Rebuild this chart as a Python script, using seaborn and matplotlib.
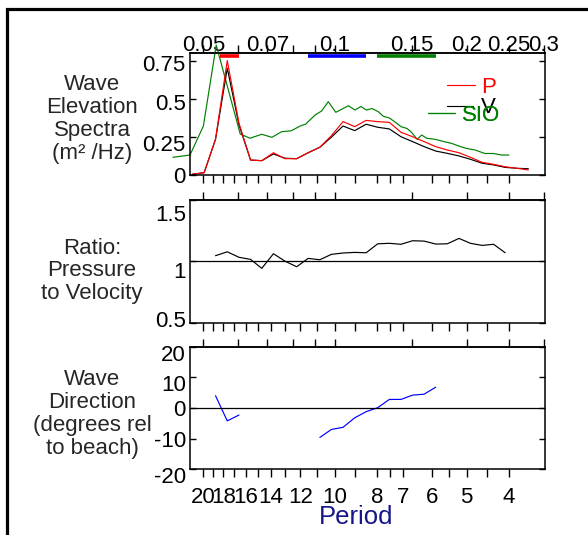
import numpy as np
import pandas as pd
import matplotlib
matplotlib.use("Agg")
import matplotlib.pyplot as plt
import seaborn as sns
from matplotlib.patches import Rectangle
from matplotlib.lines import Line2D
from matplotlib.ticker import NullFormatter
from matplotlib.transforms import ScaledTranslation

nan = np.nan

# ---------------- data ----------------
freq = [0.0472, 0.0502, 0.0533, 0.0567, 0.0603, 0.0641, 0.0680, 0.0723, 0.0768, 0.0817,
        0.0868, 0.0923, 0.0981, 0.1043, 0.1109, 0.1178, 0.1252, 0.1331, 0.1415, 0.1504,
        0.1598, 0.1699, 0.1806, 0.1920, 0.2040, 0.2169, 0.2304, 0.2449, 0.2604, 0.2767]
p_spec = [0.005, 0.015, 0.234, 0.750, 0.340, 0.098, 0.094, 0.146, 0.107, 0.107,
          0.146, 0.182, 0.258, 0.350, 0.317, 0.358, 0.350, 0.345, 0.280, 0.251,
          0.219, 0.186, 0.164, 0.146, 0.116, 0.083, 0.070, 0.054, 0.044, 0.033]
v_spec = [0.005, 0.015, 0.234, 0.700, 0.330, 0.098, 0.094, 0.138, 0.110, 0.107,
          0.146, 0.182, 0.248, 0.321, 0.291, 0.333, 0.313, 0.302, 0.251, 0.219,
          0.186, 0.157, 0.142, 0.125, 0.103, 0.077, 0.066, 0.050, 0.044, 0.041]
ratio = [nan, nan, 1.046, 1.078, 1.033, 1.016, 0.943, 1.062, 1.002, 0.956,
         1.024, 1.013, 1.057, 1.068, 1.073, 1.070, 1.143, 1.147, 1.139, 1.168,
         1.165, 1.141, 1.143, 1.187, 1.147, 1.130, 1.139, 1.070, nan, nan]
direction = [nan, nan, 4.0, -4.2, -2.3, nan, nan, nan, nan, nan,
             nan, -9.6, -7.0, -6.3, -3.2, -1.2, 0.1, 2.8, 2.8, 4.2,
             4.5, 6.8, nan, nan, nan, nan, nan, nan, nan, nan]

sio_freq = [0.0426, 0.0466, 0.0500, 0.0535, 0.0607, 0.0639, 0.0680, 0.0717, 0.0755,
            0.0794, 0.0832, 0.0857, 0.0900, 0.0932, 0.0965, 0.1004, 0.1073, 0.1111, 0.1145,
            0.1180, 0.1215, 0.1256, 0.1289, 0.1331, 0.1384, 0.1415, 0.1461, 0.1497, 0.1540,
            0.1578, 0.1620, 0.1693, 0.1768, 0.1848, 0.1931, 0.2000, 0.2089, 0.2202, 0.2301,
            0.2405, 0.2499]
sio_spec = [0.116, 0.131, 0.321, 0.852, 0.269, 0.241, 0.267, 0.247, 0.284,
            0.290, 0.321, 0.334, 0.393, 0.420, 0.481, 0.411, 0.454, 0.426, 0.449,
            0.426, 0.436, 0.415, 0.385, 0.374, 0.339, 0.317, 0.305, 0.279, 0.234,
            0.262, 0.241, 0.234, 0.220, 0.207, 0.187, 0.174, 0.164, 0.141, 0.141,
            0.131, 0.131]

# frequency bands marked at the top of the spectra panel
band_lo = [0.0546, 0.0866, 0.1246]
band_hi = [0.0603, 0.1177, 0.1700]
band_colors = ["#ff0000", "#0000ff", "#008000"]

period_major = [20, 18, 16, 14, 12, 10, 8, 7, 6, 5, 4]
period_minor = [19, 17, 15, 13, 11, 9, 7.5, 5.5, 4.5]
freq_major = [0.05, 0.07, 0.1, 0.15, 0.2, 0.25, 0.3]
freq_major_labels = ["0.05", "0.07", "0.1", "0.15", "0.2", "0.25", "0.3"]
freq_minor = [0.06, 0.08, 0.09]

spec_ticks = [0, 0.25, 0.5, 0.75]
spec_labels = ["0", "0.25", "0.5", "0.75"]
ratio_ticks = [0.5, 1, 1.5]
ratio_labels = ["0.5", "1", "1.5"]
dir_ticks = [-20, -10, 0, 10, 20]
dir_labels = ["-20", "-10", "0", "10", "20"]

# ---------------- style ----------------
sns.set_theme(style="ticks")
plt.rcParams["font.family"] = ["Liberation Sans", "DejaVu Sans"]
plt.rcParams["axes.linewidth"] = 1.1
plt.rcParams["axes.edgecolor"] = "black"

df = pd.DataFrame({"freq": freq, "P": p_spec, "V": v_spec,
                   "ratio": ratio, "direction": direction})
df["seg"] = df["direction"].isna().cumsum()
sio = pd.DataFrame({"freq": sio_freq, "spec": sio_spec})

W, H = 588, 535
fig = plt.figure(figsize=(W / 100, H / 100), dpi=100)
left, width = 190 / W, 355 / W
ax1 = fig.add_axes([left, 1 - 175 / H, width, 122 / H])
ax2 = fig.add_axes([left, 1 - 322.7 / H, width, 122.7 / H])
ax3 = fig.add_axes([left, 1 - 469.3 / H, width, 122.6 / H])

XLIM = (0.0466, 0.302)
LW = 0.85
FS = 16

# spectra
sns.lineplot(data=sio, x="freq", y="spec", color="#008000", lw=LW, ax=ax1)
sio_line = ax1.lines[-1]
sio_line.set_clip_on(False)
sns.lineplot(data=df, x="freq", y="V", color="black", lw=LW, ax=ax1)
sns.lineplot(data=df, x="freq", y="P", color="#ff0000", lw=LW, ax=ax1)
ax1.hlines([0.782] * len(band_lo), band_lo, band_hi, colors=band_colors, lw=2.6)

# ratio
sns.lineplot(data=df.dropna(subset=["ratio"]), x="freq", y="ratio",
             color="black", lw=LW, ax=ax2)
ax2.axhline(1, color="black", lw=0.9)

# direction
sns.lineplot(data=df.dropna(subset=["direction"]), x="freq", y="direction",
             units="seg", estimator=None, color="#0000ff", lw=LW, ax=ax3)
ax3.axhline(0, color="black", lw=0.9)

ylims = [(0, 0.8), (0.5, 1.5), (-20, 20)]
yt = [(spec_ticks, spec_labels), (ratio_ticks, ratio_labels), (dir_ticks, dir_labels)]
# vertical nudges (pixels, downward) of the y tick labels, as in the original layout
label_nudge = [[0, 6, 3, 2], [-4, 9, 13], [6, 0, 0, 6, 6]]

for i, ax in enumerate([ax1, ax2, ax3]):
    ax.set_xscale("log")
    ax.set_xlim(*XLIM)
    ax.set_ylim(*ylims[i])
    ax.set_xlabel("")
    ax.set_ylabel("")
    ax.set_yticks(yt[i][0], labels=yt[i][1])
    ax.tick_params(axis="y", direction="in", length=4.3, width=1, left=True,
                   right=True, labelsize=FS, pad=3, colors="black")
    # bottom: period ticks
    ax.set_xticks([1 / p for p in period_major], labels=[str(p) for p in period_major])
    ax.set_xticks([1 / p for p in period_minor], minor=True)
    ax.xaxis.set_minor_formatter(NullFormatter())
    ax.tick_params(axis="x", which="both", direction="out", length=5.8, width=1,
                   top=False, bottom=True, labelsize=FS, pad=7.0,
                   labelbottom=(ax is ax3), colors="black")
    for s in ax.spines.values():
        s.set_visible(True)
        s.set_color("black")
    # top: frequency ticks
    sec = ax.secondary_xaxis("top")
    sec.set_xticks(freq_major, labels=freq_major_labels)
    sec.set_xticks(freq_minor, minor=True)
    sec.xaxis.set_minor_formatter(NullFormatter())
    sec.tick_params(axis="x", which="both", direction="out", length=5.5, width=1,
                    labelsize=FS, pad=-7.5, labeltop=(ax is ax1), colors="black")
    sec.spines["top"].set_color("black")
    for tick, dy in zip(ax.yaxis.get_major_ticks(), label_nudge[i]):
        tick.label1.set_transform(tick.label1.get_transform() +
                                  ScaledTranslation(0, -dy / 100, fig.dpi_scale_trans))

# legend entries for the spectra panel
def add_entry(ax, color, label, x, y, hl, tp):
    h = Line2D([], [], color=color, lw=LW)
    lg = ax.legend([h], [label], loc="center left", bbox_to_anchor=(x, y),
                   frameon=False, borderpad=0, borderaxespad=0, handlelength=hl,
                   handletextpad=tp, fontsize=FS, labelcolor=color)
    ax.add_artist(lg)

add_entry(ax1, "#ff0000", "P", 0.724, 0.715, 1.25, 0.28)
add_entry(ax1, "black", "V", 0.723, 0.55, 1.2, 0.35)
add_entry(ax1, "#008000", "SIO", 0.671, 0.49, 1.2, 0.32)

# row labels
fig.text(92 / W, 1 - 119 / H, "Wave\nElevation\nSpectra\n(m² /Hz)", ha="center",
         va="center", fontsize=FS, linespacing=1.12)
fig.text(92 / W, 1 - 271 / H, "Ratio:\nPressure\nto Velocity", ha="center",
         va="center", fontsize=FS, linespacing=1.12)
fig.text(92 / W, 1 - 414 / H, "Wave\nDirection\n(degrees rel\nto beach)", ha="center",
         va="center", fontsize=FS, linespacing=1.12)
fig.text(356 / W, 1 - 517 / H, "Period", ha="center", va="center", fontsize=18.5,
         color="#16168a")

# frame at top/left of the figure
fig.add_artist(Rectangle((6.5 / W, -0.2), 1.3, 0.2 + 1 - 8.5 / H, fill=False,
                         lw=2.3, edgecolor="black", transform=fig.transFigure,
                         clip_on=False))

fig.savefig("out.png", dpi=100)
